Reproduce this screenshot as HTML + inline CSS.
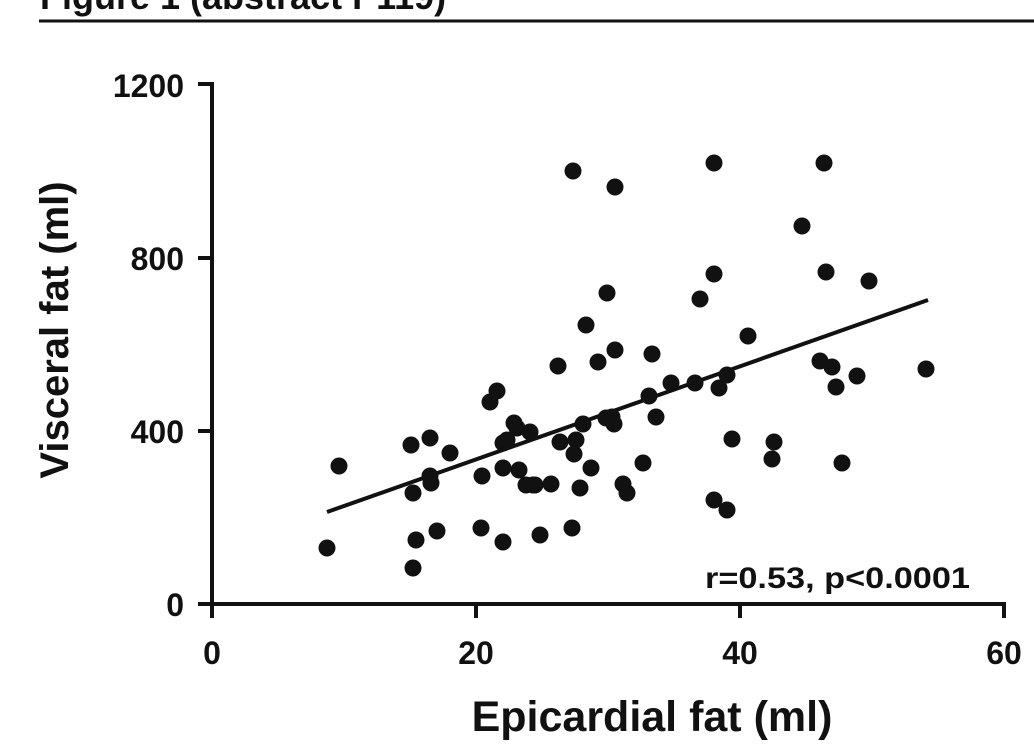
<!DOCTYPE html>
<html><head><meta charset="utf-8"><style>
html,body{margin:0;padding:0;background:#fff;}
svg{display:block;}
text{font-family:"Liberation Sans",Arial,sans-serif;font-weight:bold;fill:#111;}
</style></head><body>
<svg width="1034" height="755" viewBox="0 0 1034 755" xmlns="http://www.w3.org/2000/svg">
<text x="40" y="9" font-size="36">Figure 1 (abstract P119)</text>
<line x1="39" y1="21" x2="1034" y2="21" stroke="#111" stroke-width="3"/>
<g stroke="#111" stroke-width="4" fill="none">
<polyline points="198,84 212,84 212,604 1004,604 1004,618"/>
<line x1="198" y1="258" x2="212" y2="258"/>
<line x1="198" y1="431" x2="212" y2="431"/>
<line x1="198" y1="604" x2="212" y2="604"/>
<line x1="212" y1="604" x2="212" y2="618"/>
<line x1="476" y1="604" x2="476" y2="618"/>
<line x1="740" y1="604" x2="740" y2="618"/>
</g>
<g font-size="32" text-anchor="end">
<text x="184" y="97">1200</text>
<text x="184" y="270">800</text>
<text x="184" y="443">400</text>
<text x="184" y="616">0</text>
</g>
<g font-size="32" text-anchor="middle">
<text x="212" y="664">0</text>
<text x="476" y="664">20</text>
<text x="740" y="664">40</text>
<text x="1004" y="664">60</text>
</g>
<text x="652" y="731" font-size="43" text-anchor="middle">Epicardial fat (ml)</text>
<text transform="translate(68,330) rotate(-90)" font-size="40" text-anchor="middle">Visceral fat (ml)</text>
<text x="705" y="588" font-size="30" textLength="265" lengthAdjust="spacingAndGlyphs">r=0.53, p&lt;0.0001</text>
<line x1="327" y1="512" x2="928" y2="300" stroke="#111" stroke-width="4"/>
<g fill="#111">
<circle cx="327" cy="548" r="8.5"/><circle cx="339" cy="466" r="8.5"/><circle cx="411" cy="445" r="8.5"/><circle cx="413" cy="493" r="8.5"/><circle cx="416" cy="540" r="8.5"/><circle cx="413" cy="568" r="8.5"/><circle cx="430" cy="438" r="8.5"/><circle cx="430" cy="476" r="8.5"/><circle cx="431" cy="483" r="8.5"/><circle cx="437" cy="531" r="8.5"/><circle cx="450" cy="453" r="8.5"/><circle cx="482" cy="476" r="8.5"/><circle cx="481" cy="528" r="8.5"/><circle cx="490" cy="402" r="8.5"/><circle cx="497" cy="391" r="8.5"/><circle cx="503" cy="468" r="8.5"/><circle cx="503" cy="443" r="8.5"/><circle cx="507" cy="440" r="8.5"/><circle cx="503" cy="542" r="8.5"/><circle cx="514" cy="423" r="8.5"/><circle cx="517" cy="428" r="8.5"/><circle cx="519" cy="470" r="8.5"/><circle cx="526" cy="485" r="8.5"/><circle cx="530" cy="432" r="8.5"/><circle cx="535" cy="485" r="8.5"/><circle cx="533" cy="485" r="8.5"/><circle cx="540" cy="535" r="8.5"/><circle cx="551" cy="484" r="8.5"/><circle cx="558" cy="366" r="8.5"/><circle cx="560" cy="442" r="8.5"/><circle cx="573" cy="171" r="8.5"/><circle cx="572" cy="528" r="8.5"/><circle cx="574" cy="454" r="8.5"/><circle cx="576" cy="440" r="8.5"/><circle cx="580" cy="488" r="8.5"/><circle cx="583" cy="424" r="8.5"/><circle cx="586" cy="325" r="8.5"/><circle cx="591" cy="468" r="8.5"/><circle cx="598" cy="362" r="8.5"/><circle cx="607" cy="293" r="8.5"/><circle cx="606" cy="418" r="8.5"/><circle cx="612" cy="417" r="8.5"/><circle cx="615" cy="187" r="8.5"/><circle cx="615" cy="350" r="8.5"/><circle cx="614" cy="424" r="8.5"/><circle cx="623" cy="484" r="8.5"/><circle cx="627" cy="493" r="8.5"/><circle cx="643" cy="463" r="8.5"/><circle cx="652" cy="354" r="8.5"/><circle cx="649" cy="396" r="8.5"/><circle cx="656" cy="417" r="8.5"/><circle cx="671" cy="383" r="8.5"/><circle cx="695" cy="383" r="8.5"/><circle cx="700" cy="299" r="8.5"/><circle cx="714" cy="274" r="8.5"/><circle cx="714" cy="500" r="8.5"/><circle cx="714" cy="163" r="8.5"/><circle cx="719" cy="388" r="8.5"/><circle cx="727" cy="375" r="8.5"/><circle cx="727" cy="510" r="8.5"/><circle cx="732" cy="439" r="8.5"/><circle cx="748" cy="336" r="8.5"/><circle cx="772" cy="459" r="8.5"/><circle cx="774" cy="442" r="8.5"/><circle cx="802" cy="226" r="8.5"/><circle cx="820" cy="361" r="8.5"/><circle cx="826" cy="272" r="8.5"/><circle cx="832" cy="367" r="8.5"/><circle cx="836" cy="387" r="8.5"/><circle cx="842" cy="463" r="8.5"/><circle cx="857" cy="376" r="8.5"/><circle cx="869" cy="281" r="8.5"/><circle cx="926" cy="369" r="8.5"/><circle cx="824" cy="163" r="8.5"/>
</g>
</svg>
</body></html>
